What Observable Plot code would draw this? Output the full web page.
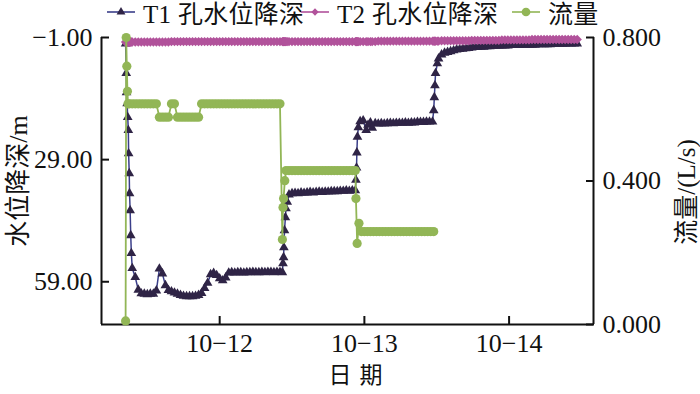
<!DOCTYPE html>
<html><head><meta charset="utf-8">
<script src="https://cdn.jsdelivr.net/npm/d3@7"></script>
<script src="https://cdn.jsdelivr.net/npm/@observablehq/plot@0.6"></script>
<style>
body{margin:0;background:#fff;}
#wrap{position:relative;width:700px;height:394px;background:#fff;}
#legend{position:relative;height:22px;font-family:"Liberation Serif","Noto Sans CJK SC",serif;font-size:25px;color:#111;}
.item{position:absolute;top:-1px;display:flex;align-items:center;height:26px;white-space:nowrap;letter-spacing:0.3px;}
.item svg{margin-right:7px;}
</style></head><body>
<div id="wrap"><div id="legend"></div><div id="chart"></div></div>
<script>
// ---- data (hours since 10-11 00:00) ----
const seriesNames = ["T1 孔水位降深", "T2 孔水位降深", "流量"];
const seriesColors = ["#2f2446", "#b1529b", "#92b656"];
const t1LineColor = "#3b3f8a";

const dayTicks = [24, 48, 72];
const dayLabels = ["10−12", "10−13", "10−14"];
const hourDomain = [4.4, 86];
const depthDomain = [-1, 69.5];
const depthTicks = [-1, 29, 59];
const flowDomain = [0, 0.8];
const flowTicks = [0, 0.4, 0.8];
const xTitle = "日期";
const yTitle = "水位降深/m";
const y2Title = "流量/(L/s)";

const wellHours = [
  8.4,8.5,8.55,8.65,8.75,8.85,8.9,9.0,9.05,9.15,9.25,9.35,9.5,10.0,10.5,
  11,11.5,12,12.5,13,13.5,14,14.5,15,15.5,
  16,16.5,17,17.5,18,18.5,19,19.5,20,20.5,
  21,21.5,22,22.5,23,23.5,24,24.5,25,25.5,
  26,26.5,27,27.5,28,28.5,29,29.5,30,30.5,
  31,31.5,32,32.5,33,33.5,34,
  34.4,34.5,34.6,34.65,34.75,34.9,35.0,35.2,35.5,
  36,36.5,37,37.5,38,38.5,39,39.5,40,40.5,
  41,41.5,42,42.5,43,43.5,44,44.5,45,45.5,46,
  46.5,46.6,46.7,46.75,46.85,47.0,47.3,47.8,48.3,48.6,49.0,49.3,49.8,
  50.3,50.8,51.3,51.8,52.3,52.8,53.3,53.8,54.3,54.8,
  55.3,55.8,56.3,56.8,57.3,57.8,58.3,58.8,59.3,
  59.5,59.6,59.7,59.8,60.1,60.3,
  60.8,61.3,61.8,62.3,62.8,63.3,63.8,64.3,64.8,65.3,
  65.8,66.3,66.8,67.3,67.8,68.3,68.8,69.3,69.8,70.3,
  70.8,71.3,71.8,72.3,72.8,73.3,73.8,74.3,74.8,75.3,
  75.8,76.3,76.8,77.3,77.8,78.3,78.8,79.3,79.8,80.3,
  80.8,81.3,81.8,82.3,82.8,83.3
];
const t1Depth = [
  0.5,7.8,12.5,15.2,18.6,21.8,27.5,32.4,37.3,41.5,47.6,52.0,55.7,57.9,61.0,
  61.9,62.0,62.1,62.0,62.0,61.2,55.8,57.0,59.9,61.1,
  61.4,61.7,62.0,62.3,62.5,62.6,62.6,62.6,62.5,62.3,
  61.8,60.6,59.3,57.2,56.9,57.4,58.2,58.7,58.0,56.8,
  56.7,56.8,56.7,56.7,56.8,56.7,56.7,56.6,56.7,56.7,
  56.6,56.7,56.6,56.6,56.7,56.6,56.6,
  56.7,54.5,53.0,50.6,46.4,43.2,41.0,39.4,37.6,
  37.3,37.2,37.3,37.1,37.2,37.1,37.0,37.1,37.0,36.9,
  37.0,36.9,36.9,36.8,36.8,36.8,36.7,36.7,36.6,36.7,36.6,
  36.6,34.0,31.0,27.3,23.4,21.1,19.6,19.4,21.8,20.5,19.9,21.2,20.1,
  20.2,20.1,20.2,20.1,20.0,20.1,20.0,20.0,20.0,19.9,
  20.0,19.9,19.9,19.8,19.8,19.8,19.7,19.7,19.7,
  16.9,13.7,10.8,7.8,5.4,4.2,
  3.2,2.8,2.6,2.4,2.2,2.0,1.9,1.8,1.7,1.6,
  1.5,1.4,1.4,1.3,1.3,1.2,1.2,1.1,1.1,1.1,
  1.0,1.0,1.0,0.9,0.9,0.9,0.9,0.8,0.8,0.8,
  0.8,0.8,0.7,0.7,0.7,0.7,0.7,0.6,0.6,0.6,
  0.6,0.6,0.5,0.5,0.5,0.5
];
const t2Depth = [
  0.1,0.1,0.1,0.1,0.1,0.1,0.1,0.1,0.1,0.1,0.1,0.1,0.1,0.1,0.1,
  0.1,0.1,0.1,0.1,0.1,0.1,0.1,0.1,0.1,0.1,
  0.0,0.0,0.0,0.0,0.0,0.0,0.0,0.0,0.0,0.0,
  0.0,0.0,0.0,0.0,0.0,0.0,0.0,0.0,0.0,0.0,
  0.0,0.0,0.0,0.0,0.0,0.0,0.0,0.0,0.0,0.0,
  0.0,0.0,0.0,0.0,0.0,0.0,0.0,
  0.0,0.0,0.0,0.0,0.0,0.0,0.0,0.0,0.0,
  0.0,0.0,0.0,0.0,0.0,0.0,0.0,0.0,0.0,0.0,
  0.0,0.0,0.0,0.0,0.0,0.0,0.0,0.0,0.0,0.0,0.0,
  0.0,0.0,0.0,0.0,0.0,0.0,0.0,0.0,0.0,0.0,0.0,0.0,0.0,
  -0.1,-0.1,-0.1,-0.1,-0.1,-0.1,-0.1,-0.1,-0.1,-0.1,
  -0.1,-0.1,-0.1,-0.1,-0.1,-0.1,-0.1,-0.1,-0.1,
  -0.1,-0.1,-0.1,-0.1,-0.1,-0.1,
  -0.2,-0.2,-0.2,-0.2,-0.2,-0.2,-0.2,-0.2,-0.2,-0.2,
  -0.3,-0.3,-0.3,-0.3,-0.3,-0.3,-0.3,-0.3,-0.3,-0.3,
  -0.4,-0.4,-0.4,-0.4,-0.4,-0.4,-0.4,-0.4,-0.4,-0.4,
  -0.5,-0.5,-0.5,-0.5,-0.5,-0.5,-0.5,-0.5,-0.5,-0.5,
  -0.5,-0.5,-0.5,-0.5,-0.5,-0.5
];
const flowHours = [
  8.4,8.5,8.6,8.7,8.8,
  9,9.5,10,10.5,11,11.5,12,12.5,13,13.5,
  14,14.5,15,15.5,
  16,16.5,
  17,17.5,18,18.5,19,19.5,20,20.5,
  21,21.5,22,22.5,23,23.5,24,24.5,25,25.5,
  26,26.5,27,27.5,28,28.5,29,29.5,30,30.5,
  31,31.5,32,32.5,33,33.5,34,
  34.4,34.5,34.6,34.8,35.0,35.5,
  36,36.5,37,37.5,38,38.5,39,39.5,40,40.5,
  41,41.5,42,42.5,43,43.5,44,44.5,45,45.5,46,46.5,
  46.6,46.8,47.1,47.5,
  48,48.5,49,49.5,50,50.5,51,51.5,52,52.5,
  53,53.5,54,54.5,55,55.5,56,56.5,57,57.5,
  58,58.5,59,59.5
];
const flowRate = [
  0.01,0.80,0.72,0.65,0.615,
  0.615,0.615,0.615,0.615,0.615,0.615,0.615,0.615,0.615,0.615,
  0.578,0.578,0.578,0.578,
  0.615,0.615,
  0.578,0.578,0.578,0.578,0.578,0.578,0.578,0.578,
  0.615,0.615,0.615,0.615,0.615,0.615,0.615,0.615,0.615,0.615,
  0.615,0.615,0.615,0.615,0.615,0.615,0.615,0.615,0.615,0.615,
  0.615,0.615,0.615,0.615,0.615,0.615,0.615,
  0.237,0.326,0.351,0.401,0.429,0.429,
  0.429,0.429,0.429,0.429,0.429,0.429,0.429,0.429,0.429,0.429,
  0.429,0.429,0.429,0.429,0.429,0.429,0.429,0.429,0.429,0.429,0.429,0.429,
  0.351,0.226,0.282,0.259,
  0.259,0.259,0.259,0.259,0.259,0.259,0.259,0.259,0.259,0.259,
  0.259,0.259,0.259,0.259,0.259,0.259,0.259,0.259,0.259,0.259,
  0.259,0.259,0.259,0.259
];

// ---- build tables ----
const conv = d3.scaleLinear(flowDomain, [depthDomain[1], depthDomain[0]]);
const t1Data = wellHours.map((h, i) => ({h, v: t1Depth[i]}));
const t2Data = wellHours.map((h, i) => ({h, v: t2Depth[i]})).filter(d => d.v != null);
const flowData = flowHours.map((h, i) => ({h, v: conv(flowRate[i]), f: flowRate[i]}));

const serif = '"Liberation Serif","Noto Sans CJK SC",serif';

const chart = Plot.plot({
  width: 700, height: 372,
  marginTop: 15, marginBottom: 70, marginLeft: 101, marginRight: 107,
  style: {fontFamily: serif, fontSize: "26px", background: "white", overflow: "visible", color: "#111"},
  x: {domain: hourDomain, axis: null},
  y: {domain: depthDomain, reverse: true, axis: null},
  marks: [
    Plot.ruleX(hourDomain, {strokeWidth: 2, stroke: "#111"}),
    Plot.ruleY([depthDomain[1]], {strokeWidth: 2, stroke: "#111"}),
    Plot.axisX(dayTicks, {anchor: "bottom", tickFormat: d => dayLabels[dayTicks.indexOf(d)], tickSize: -8, tickPadding: 17, strokeWidth: 2, label: null}),
    Plot.axisY(depthTicks, {anchor: "left", tickFormat: d3.format(".2f"), tickSize: -8, tickPadding: 17, strokeWidth: 2, label: null}),
    Plot.axisY(flowTicks.map(conv), {anchor: "right", tickFormat: d => d3.format(".3f")(conv.invert(d)), tickSize: -8, tickPadding: 17, strokeWidth: 2, label: null}),
    Plot.text([xTitle], {text: d => d, frameAnchor: "bottom", textAnchor: "middle", dy: 58, dx: 12, fontSize: 23, className: "xtitle"}),
    Plot.text([yTitle], {text: d => d, frameAnchor: "left", textAnchor: "middle", rotate: -90, dx: -83, fontSize: 26}),
    Plot.text([y2Title], {text: d => d, frameAnchor: "right", textAnchor: "middle", rotate: -90, dx: 93, dy: 11, fontSize: 25}),
    Plot.line(t1Data, {x: "h", y: "v", stroke: t1LineColor, strokeWidth: 1.5}),
    Plot.dot(t1Data, {x: "h", y: "v", symbol: "triangle", r: 3.6, fill: seriesColors[0], stroke: "none"}),
    Plot.line(t2Data, {x: "h", y: "v", stroke: seriesColors[1], strokeWidth: 1.5}),
    Plot.dot(t2Data, {x: "h", y: "v", symbol: "diamond2", r: 4.2, fill: seriesColors[1], stroke: "none"}),
    Plot.line(flowData, {x: "h", y: "v", stroke: seriesColors[2], strokeWidth: 1.8}),
    Plot.dot(flowData, {x: "h", y: "v", r: 4.6, fill: seriesColors[2], stroke: "none"})
  ]
});
d3.select(chart).selectAll(".xtitle text").attr("letter-spacing", "8px");
document.getElementById("chart").appendChild(chart);

// ---- legend ----
const legendX = [106, 300, 511];
const symbols = [d3.symbolTriangle, d3.symbolDiamond2, d3.symbolCircle];
const symSizes = [34, 34, 60];
const leg = document.getElementById("legend");
seriesNames.forEach((name, i) => {
  const item = document.createElement("div");
  item.className = "item";
  item.style.left = legendX[i] + "px";
  const lineColor = i === 0 ? t1LineColor : seriesColors[i];
  const path = d3.symbol(symbols[i], symSizes[i])();
  item.innerHTML = `<svg width="30" height="24"><line x1="1" x2="29" y1="12" y2="12" stroke="${lineColor}" stroke-width="1.6"/><path d="${path}" transform="translate(15,12)" fill="${seriesColors[i]}"/></svg><span>${name}</span>`;
  leg.appendChild(item);
});
</script>
</body></html>
